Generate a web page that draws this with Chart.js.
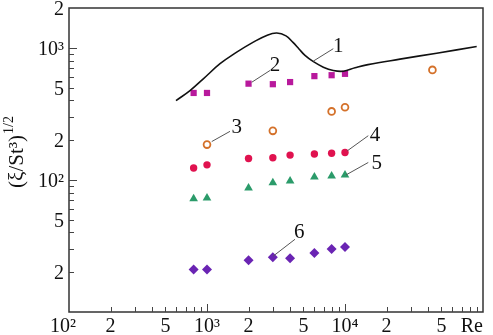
<!DOCTYPE html>
<html><head><meta charset="utf-8">
<script src="https://cdn.jsdelivr.net/npm/chart.js@4.4.1/dist/chart.umd.min.js"></script>
<style>html,body{margin:0;padding:0;background:#fff}#wrap{width:493px;height:335px}</style>
</head><body><div id="wrap"><canvas id="c" width="493" height="335"></canvas></div>
<script>
// ---- data ----
const reX = [800, 1000, 2000, 3000, 4000, 6000, 8000, 10000];
const series2 = [455, 455, 535, 530, 550, 610, 620, 635];
const series3X = [1000, 3000, 8000, 10000, 43000];
const series3 = [185, 235, 330, 355, 680];
const series4 = [123, 130, 145, 147, 154, 157, 159, 161];
const series5 = [72, 73, 87, 95, 98, 105, 107, 109];
const series6 = [21, 21, 24.6, 26, 25.5, 28, 30, 31];
const curveX = [596, 753, 940, 1243, 1642, 2166, 2708, 3200, 3737, 4200, 4642, 5130, 5866, 6966, 8225, 9720, 11817, 14678, 25040, 46170, 90000];
const curveY = [398, 474, 582, 757, 927, 1104, 1241, 1292, 1230, 1098, 980, 875, 788, 713, 673, 665, 705, 745, 820, 910, 1023];
const xTickValues = [100, 200, 500, 1000, 2000, 5000, 10000, 20000, 50000, 100000];
const xTickLabels = ['10²', '2', '5', '10³', '2', '5', '10⁴', '2', '5', 'Re'];
const yTickValues = [2000, 1000, 500, 200, 100, 50, 20];
const yTickLabels = ['2', '10³', '5', '2', '10²', '5', '2'];
const curveLabels = ['1', '2', '3', '4', '5', '6'];
// label anchor / leader line in data units
const labelAt = [[8946, 1042], [3110, 747], [1642, 253], [16490, 222], [16980, 134.7], [4667, 41]];
const leaderFrom = [[5890, 792], [2108, 548], [1082, 195], [10400, 166], [10170, 109], [3020, 26.5]];
const leaderTo = [[8225, 984], [2861, 673], [1468, 233], [14750, 216], [14750, 135.5], [4340, 35.5]];

const pts = (xs, ys) => xs.map((x, i) => ({x: x, y: ys[i]}));
const SERIF = '"Liberation Serif", "DejaVu Serif", serif';

const axesPlugin = {
  id: 'axesPlugin',
  afterDraw(chart) {
    const ctx = chart.ctx, a = chart.chartArea, xs = chart.scales.x, ys = chart.scales.y;
    ctx.save();
    // frame
    ctx.strokeStyle = '#333';
    ctx.lineWidth = 1.5;
    ctx.strokeRect(a.left, a.top, a.right - a.left, a.bottom - a.top);
    // ticks (inward)
    ctx.lineWidth = 1;
    ctx.strokeStyle = '#444';
    for (let d = 100; d < 100000; d *= 10) {
      for (let m = 1; m <= 9; m++) {
        const v = d * m;
        if (v <= 100 || v >= 100000) continue;
        const px = Math.round(xs.getPixelForValue(v)) + 0.5;
        const len = m === 1 ? 8 : 5;
        ctx.beginPath(); ctx.moveTo(px, a.bottom); ctx.lineTo(px, a.bottom - len); ctx.stroke();
      }
    }
    for (let d = 10; d < 2000; d *= 10) {
      for (let m = 1; m <= 9; m++) {
        const v = d * m;
        if (v <= 10 || v >= 2000) continue;
        const py = Math.round(ys.getPixelForValue(v)) + 0.5;
        const len = m === 1 ? 8 : 5;
        ctx.beginPath(); ctx.moveTo(a.left, py); ctx.lineTo(a.left + len, py); ctx.stroke();
      }
    }
    // tick labels
    ctx.fillStyle = '#111';
    ctx.font = '20px ' + SERIF;
    ctx.textBaseline = 'middle';
    xTickValues.forEach((v, i) => {
      let px = xs.getPixelForValue(v);
      ctx.textAlign = 'center';
      if (i === 0) px -= 6;
      if (i === xTickValues.length - 1) ctx.textAlign = 'right';
      ctx.fillText(xTickLabels[i], px, a.bottom + 15);
    });
    ctx.textAlign = 'right';
    yTickValues.forEach((v, i) => {
      const py = ys.getPixelForValue(v);
      ctx.fillText(yTickLabels[i], a.left - 5, py + 2);
    });
    // y title
    ctx.save();
    ctx.translate(15, 152);
    ctx.rotate(-Math.PI / 2);
    ctx.textBaseline = 'middle';
    ctx.textAlign = 'left';
    ctx.font = '21px ' + SERIF;
    const main = '(ξ/St³)';
    const sup = '1/2';
    const mw = ctx.measureText(main).width;
    ctx.font = '14px ' + SERIF;
    const sw = ctx.measureText(sup).width;
    const total = mw + 1 + sw;
    ctx.font = '21px ' + SERIF;
    ctx.fillText(main, -total / 2, 2);
    ctx.font = '14px ' + SERIF;
    ctx.fillText(sup, -total / 2 + mw + 1, -6);
    ctx.restore();
    // curve labels with leader lines
    ctx.strokeStyle = '#555';
    ctx.lineWidth = 1;
    curveLabels.forEach((t, i) => {
      ctx.beginPath();
      ctx.moveTo(xs.getPixelForValue(leaderFrom[i][0]), ys.getPixelForValue(leaderFrom[i][1]));
      ctx.lineTo(xs.getPixelForValue(leaderTo[i][0]), ys.getPixelForValue(leaderTo[i][1]));
      ctx.stroke();
      ctx.font = '21px ' + SERIF;
      ctx.textAlign = 'center';
      ctx.textBaseline = 'middle';
      ctx.fillStyle = '#111';
      ctx.fillText(t, xs.getPixelForValue(labelAt[i][0]), ys.getPixelForValue(labelAt[i][1]) + 1);
    });
    ctx.restore();
  }
};

new Chart(document.getElementById('c'), {
  type: 'scatter',
  data: {
    datasets: [
      {label: '1', data: pts(curveX, curveY), showLine: true, borderColor: '#111', borderWidth: 1.6, pointRadius: 0, tension: 0.4, fill: false},
      {label: '2', data: pts(reX, series2), pointStyle: 'rect', pointRadius: 4.4, backgroundColor: '#b8199c', borderColor: '#b8199c', borderWidth: 0},
      {label: '3', data: pts(series3X, series3), pointStyle: 'circle', pointRadius: 3.4, backgroundColor: '#ffffff', borderColor: '#d4712a', borderWidth: 1.8},
      {label: '4', data: pts(reX, series4), pointStyle: 'circle', pointRadius: 3.7, backgroundColor: '#e0124f', borderColor: '#e0124f', borderWidth: 0},
      {label: '5', data: pts(reX, series5), pointStyle: 'triangle', pointRadius: 5, backgroundColor: '#2b9b6a', borderColor: '#2b9b6a', borderWidth: 0},
      {label: '6', data: pts(reX, series6), pointStyle: 'rectRot', pointRadius: 5, backgroundColor: '#6a24b3', borderColor: '#6a24b3', borderWidth: 0}
    ]
  },
  options: {
    responsive: false,
    animation: false,
    layout: {padding: {left: 69, right: 10, top: 8, bottom: 23}},
    plugins: {legend: {display: false}, tooltip: {enabled: false}},
    scales: {
      x: {type: 'logarithmic', min: 100, max: 100000, display: false},
      y: {type: 'logarithmic', min: 10, max: 2000, display: false}
    }
  },
  plugins: [axesPlugin]
});
</script>
</body></html>
